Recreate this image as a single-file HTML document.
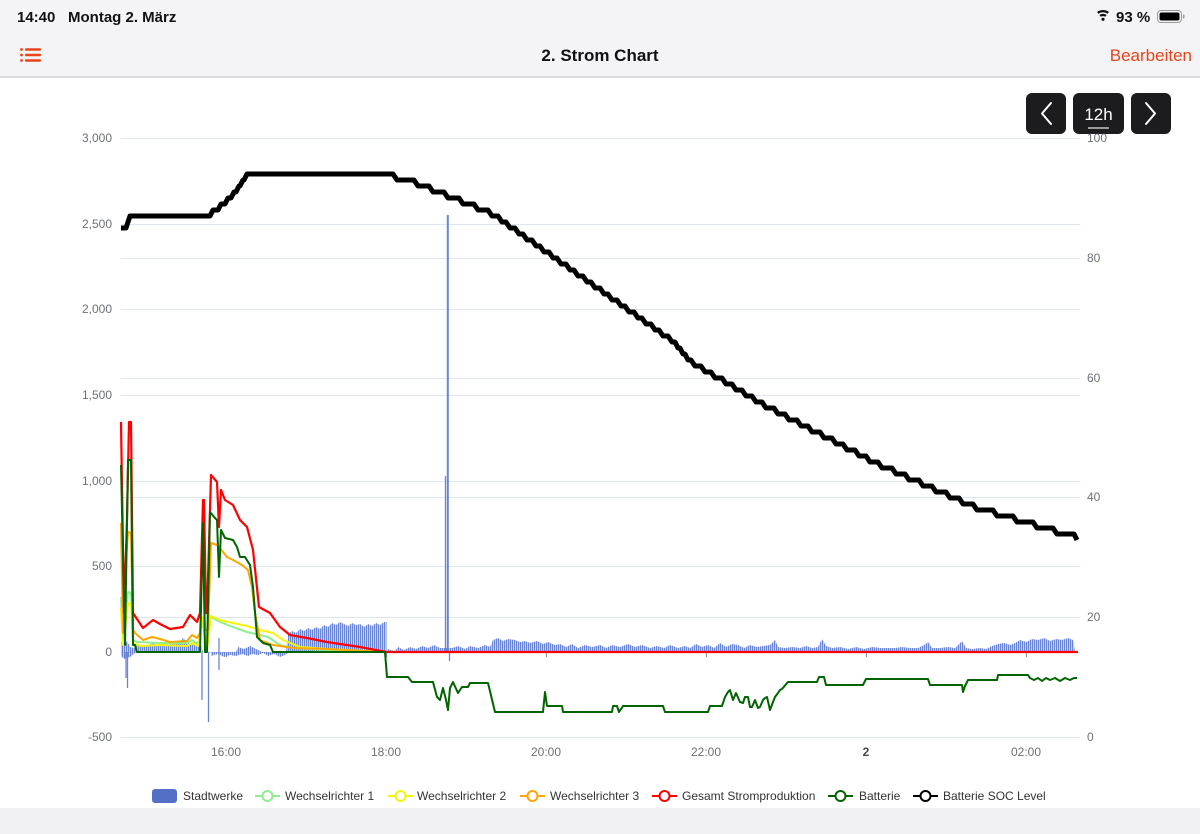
<!DOCTYPE html>
<html>
<head>
<meta charset="utf-8">
<style>
  html,body{margin:0;padding:0;background:#fff;}
  body{width:1200px;height:834px;overflow:hidden;font-family:"Liberation Sans",sans-serif;}
  svg{display:block;}
</style>
</head>
<body>
<svg width="1200" height="834" viewBox="0 0 1200 834" xmlns="http://www.w3.org/2000/svg" font-family="Liberation Sans, sans-serif">
  <defs>
    <pattern id="bars" width="2" height="10" patternUnits="userSpaceOnUse">
      <rect x="0" y="0" width="1.4" height="10" fill="#6a85d6"/>
    </pattern>
  </defs>

  <!-- top bar -->
  <rect x="0" y="0" width="1200" height="77" fill="#f4f4f6"/>
  <rect x="0" y="76" width="1200" height="2" fill="#dcdcdf"/>
  <text x="17" y="22" font-size="15" font-weight="bold" fill="#111">14:40</text>
  <text x="68" y="22" font-size="15" font-weight="bold" fill="#111">Montag 2. März</text>
  <!-- wifi -->
  <g fill="#111">
    <path d="M1097,12 A10,10 0 0 1 1109,12 L1107.5,13.8 A7.5,7.5 0 0 0 1098.5,13.8 Z"/>
    <path d="M1099.3,15 A6.5,6.5 0 0 1 1106.7,15 L1105.2,16.8 A4.2,4.2 0 0 0 1100.8,16.8 Z"/>
    <circle cx="1103" cy="19.3" r="1.6"/>
  </g>
  <text x="1116" y="22" font-size="15" font-weight="bold" fill="#111">93 %</text>
  <rect x="1157.5" y="10.5" width="24" height="12" rx="3.5" fill="none" stroke="#999" stroke-width="1"/>
  <rect x="1159.5" y="12.5" width="20" height="8" rx="2" fill="#000"/>
  <rect x="1183" y="14.5" width="1.5" height="4" rx="0.7" fill="#999"/>

  <!-- list icon -->
  <g fill="#e8431a">
    <circle cx="21.5" cy="49.5" r="1.4"/>
    <circle cx="21.5" cy="55" r="1.4"/>
    <circle cx="21.5" cy="60.5" r="1.4"/>
    <rect x="25" y="48.3" width="16" height="2.4" rx="1"/>
    <rect x="25" y="53.8" width="16" height="2.4" rx="1"/>
    <rect x="25" y="59.3" width="16" height="2.4" rx="1"/>
  </g>
  <text x="600" y="61" font-size="17" font-weight="bold" fill="#111" text-anchor="middle">2. Strom Chart</text>
  <text x="1192" y="61" font-size="17" fill="#e8431a" text-anchor="end">Bearbeiten</text>

  <!-- bottom gray -->
  <rect x="0" y="808" width="1200" height="26" fill="#efeff4"/>

  <!-- nav buttons -->
  <rect x="1026" y="93" width="40" height="41" rx="6" fill="#1c1c1e"/>
  <path d="M1051,103 L1042,113.5 L1051,124" fill="none" stroke="#fff" stroke-width="2" stroke-linecap="round" stroke-linejoin="round"/>
  <rect x="1073" y="93" width="51" height="41" rx="6" fill="#1c1c1e"/>
  <text x="1098.5" y="120" font-size="17" fill="#fff" text-anchor="middle">12h</text>
  <rect x="1088" y="127" width="21" height="2" fill="#9a9a9a"/>
  <rect x="1131" y="93" width="40" height="41" rx="6" fill="#1c1c1e"/>
  <path d="M1146,103 L1155,113.5 L1146,124" fill="none" stroke="#fff" stroke-width="2" stroke-linecap="round" stroke-linejoin="round"/>

  <!-- grid lines -->
  <g stroke="#e0e6f1" stroke-width="1">
    <line x1="121" y1="138.5" x2="1080" y2="138.5"/>
    <line x1="121" y1="224.5" x2="1080" y2="224.5"/>
    <line x1="121" y1="309.5" x2="1080" y2="309.5"/>
    <line x1="121" y1="395.5" x2="1080" y2="395.5"/>
    <line x1="121" y1="481.5" x2="1080" y2="481.5"/>
    <line x1="121" y1="566.5" x2="1080" y2="566.5"/>
    <line x1="121" y1="652.5" x2="1080" y2="652.5"/>
    <line x1="121" y1="737.5" x2="1080" y2="737.5"/>
    <line x1="121" y1="258.5" x2="1080" y2="258.5"/>
    <line x1="121" y1="378.5" x2="1080" y2="378.5"/>
    <line x1="121" y1="497.5" x2="1080" y2="497.5"/>
    <line x1="121" y1="617.5" x2="1080" y2="617.5"/>
  </g>
  <!-- x ticks on zero line -->
  <g stroke="#8a8d96" stroke-width="1">
    <line x1="226.5" y1="652" x2="226.5" y2="657"/>
    <line x1="386.5" y1="652" x2="386.5" y2="657"/>
    <line x1="546.5" y1="652" x2="546.5" y2="657"/>
    <line x1="706.5" y1="652" x2="706.5" y2="657"/>
    <line x1="866.5" y1="652" x2="866.5" y2="657"/>
    <line x1="1026.5" y1="652" x2="1026.5" y2="657"/>
  </g>

  <!-- left axis labels -->
  <g font-size="12" fill="#6e7079" text-anchor="end">
    <text x="112" y="142">3,000</text>
    <text x="112" y="228">2,500</text>
    <text x="112" y="313">2,000</text>
    <text x="112" y="399">1,500</text>
    <text x="112" y="485">1,000</text>
    <text x="112" y="570">500</text>
    <text x="112" y="656">0</text>
    <text x="112" y="741">-500</text>
  </g>
  <!-- right axis labels -->
  <g font-size="12" fill="#6e7079">
    <text x="1087" y="142">100</text>
    <text x="1087" y="262">80</text>
    <text x="1087" y="382">60</text>
    <text x="1087" y="501">40</text>
    <text x="1087" y="621">20</text>
    <text x="1087" y="741">0</text>
  </g>
  <!-- x labels -->
  <g font-size="12" fill="#6e7079" text-anchor="middle">
    <text x="226" y="756">16:00</text>
    <text x="386" y="756">18:00</text>
    <text x="546" y="756">20:00</text>
    <text x="706" y="756">22:00</text>
    <text x="866" y="756" font-weight="bold" fill="#464646">2</text>
    <text x="1026" y="756">02:00</text>
  </g>

  <!-- Stadtwerke bars -->
  <g fill="url(#bars)">
    <path d="M121,652 L121,642 L124,646 L127,641 L130,647 L134,648 L138,644 L143,646 L148,645 L153,643 L158,646 L163,642 L168,645 L173,641 L178,644 L183,638 L188,643 L193,645 L198,641 L201,646 L203,652 Z"/>
    <path d="M121,652 L121,656 L124,659 L130,657 L135,653 L140,652 Z"/>
    <path d="M211,652 L211,656 L218,654 L224,657 L230,655 L236,656 L242,654 L248,656 L252,654 L258,655 L263,653 L268,656 L274,654 L280,657 L285,655 L289,652 Z"/>
    <path d="M236,652 L238,647 L244,649 L250,646 L256,649 L262,652 Z"/>
    <path d="M286,652 L288,634 L292,631 L296,633 L300,629 L304,631 L308,628 L312,630 L316,627 L320,629 L324,625 L328,627 L332,623 L336,625 L340,622 L344,624 L348,626 L352,623 L356,625 L360,624 L364,627 L368,624 L372,626 L376,623 L380,625 L384,622 L386.5,622 L386.5,652 Z"/>
    <path d="M387,652 L387,649 L395,651 L398,647 L404,650 L410,647 L416,649 L422,646 L428,648 L434,645 L440,648 L444,648 L452,648 L458,646 L465,649 L470,646 L478,648 L485,645 L490,647 L493,640 L498,638 L503,641 L508,639 L515,640 L520,642 L525,641 L530,643 L537,641 L543,644 L548,642 L555,645 L560,644 L566,647 L572,644 L578,648 L585,645 L592,647 L600,645 L606,648 L612,645 L620,647 L628,644 L635,647 L642,645 L650,648 L657,646 L664,648 L670,645 L678,648 L685,646 L690,648 L696,644 L702,647 L708,645 L714,648 L720,643 L726,647 L732,644 L738,645 L744,648 L750,645 L757,647 L763,646 L770,645 L775,640 L778,647 L785,648 L792,647 L800,648 L806,646 L812,648 L818,647 L822,639 L826,646 L832,648 L840,647 L848,649 L856,647 L864,649 L872,647 L880,648 L888,648 L895,648 L902,647 L910,648 L918,648 L924,645 L928,642 L932,648 L940,648 L948,647 L955,648 L962,641 L966,648 L972,649 L980,648 L986,649 L992,646 L998,644 L1004,643 L1010,645 L1015,643 L1020,640 L1026,642 L1032,639 L1038,640 L1044,638 L1050,641 L1056,639 L1062,640 L1068,638 L1073,640 L1075,652 Z"/>
  </g>
  <g stroke="#6a85d6" stroke-width="1.3">
    <line x1="126" y1="652" x2="126" y2="678"/>
    <line x1="127.5" y1="652" x2="127.5" y2="688"/>
    <line x1="202" y1="652" x2="202" y2="700"/>
    <line x1="208.5" y1="652" x2="208.5" y2="722"/>
    <line x1="219" y1="638" x2="219" y2="670"/>
    <line x1="445.5" y1="652" x2="445.5" y2="476"/>
    <line x1="447.8" y1="652" x2="447.8" y2="215" stroke-width="2"/>
    <line x1="449.5" y1="652" x2="449.5" y2="661"/>
  </g>

  <!-- Wechselrichter 1 -->
  <path d="M121,597 L123,643 L128,592 L131,593 L133,640 L137,642 L160,643 L187,643 L192,640 L198,645 L202,620 L207,648 L211,617 L220,622 L233,627 L247,632 L260,635 L268,637 L280,645 L293,648 L327,650 L387,652" fill="none" stroke="#90ee90" stroke-width="2" stroke-linejoin="round"/>
  <!-- Wechselrichter 2 -->
  <path d="M121,608 L123,645 L128,603 L131,604 L133,643 L140,646 L160,645 L187,646 L192,643 L198,646 L202,617 L207,649 L211,616 L220,620 L233,623 L247,626 L260,630 L273,633 L283,640 L300,647 L327,649 L387,652" fill="none" stroke="#f5f50a" stroke-width="2" stroke-linejoin="round"/>
  <!-- Wechselrichter 3 -->
  <path d="M121,523 L123,633 L126,560 L128,532 L131,533 L133,630 L135,633 L143,640 L152,637 L160,639 L170,642 L187,641 L192,635 L197,638 L200,633 L203,527 L205,630 L208,630 L211,543 L217,545 L219,547 L227,557 L233,560 L242,565 L248,570 L252,587 L255,613 L260,640 L273,645 L293,648 L327,649 L387,652" fill="none" stroke="#ffa500" stroke-width="2" stroke-linejoin="round"/>
  <!-- Gesamt -->
  <path d="M121,422 L124,613 L127,520 L129,422 L131,422 L133,613 L143,628 L153,620 L160,624 L170,629 L183,627 L190,615 L197,622 L200,613 L203,500 L204,500 L206,613 L207,613 L211,475 L217,482 L219,527 L221,490 L225,500 L233,505 L240,520 L247,527 L253,550 L259,607 L270,613 L280,627 L290,635 L307,638 L327,642 L360,647 L387,652 L1078,652" fill="none" stroke="#ff0000" stroke-width="2.2" stroke-linejoin="round"/>
  <!-- Batterie -->
  <path d="M121,465 L125,645 L128,460 L131,460 L133,645 L135,645 L137,652 L200,652 L203,523 L205,652 L207,652 L210,512 L215,518 L217,520 L219,577 L221,530 L225,538 L233,540 L237,547 L240,557 L245,557 L250,565 L253,587 L257,637 L263,643 L270,645 L273,652 L385,652 L387,677 L408,677 L412,682 L433,682 L437,697 L440,700 L443,688 L446,700 L448,710 L450,688 L453,682 L458,693 L462,687 L468,687 L470,683 L488,683 L495,712 L543,712 L545,692 L547,706 L562,706 L563,712 L612,712 L613,706 L617,706 L619,712 L623,706 L663,706 L665,712 L708,712 L710,706 L722,706 L725,697 L728,692 L730,690 L733,700 L736,693 L740,702 L743,703 L745,697 L748,697 L750,707 L752,707 L755,700 L758,708 L760,707 L763,700 L765,698 L767,697 L770,710 L773,702 L775,697 L778,693 L780,690 L782,689 L788,682 L817,682 L819,677 L824,677 L826,685 L863,685 L866,679 L928,679 L930,685 L962,685 L963,692 L965,686 L968,680 L997,680 L998,675 L1028,675 L1030,678 L1034,680 L1038,678 L1042,681 L1046,678 L1050,680 L1055,678 L1060,681 L1065,678 L1070,680 L1074,678 L1077,678" fill="none" stroke="#006400" stroke-width="2" stroke-linejoin="round"/>
  <!-- Batterie SOC Level -->
  <path d="M121,228 H126 L130,216 H210 L213,210 H218 L221,204 H225 L228,198 H231 L234,192 H236 L239,186 H240 L243,180 H244 L247,174 H393 L397,180 H414 L418,186 H429 L433,192 H444 L448,198 H459 L463,204 H474 L478,210 H488 L492,216 H498 L502,222 H506 L510,228 H515 L519,234 H523 L527,240 H532 L536,246 H540 L544,252 H549 L553,258 H557 L561,264 H566 L570,270 H574 L578,276 H583 L587,282 H591 L595,288 H600 L604,294 H608 L612,300 H617 L621,306 H625 L629,312 H634 L638,318 H642 L646,324 H651 L655,330 H659 L663,336 H668 L672,342 H675 L678,348 H680 L683,354 H685 L688,360 H691 L695,366 H701 L705,372 H711 L715,378 H722 L726,384 H732 L736,390 H742 L746,396 H752 L756,402 H762 L766,408 H774 L778,414 H785 L789,420 H797 L801,426 H808 L812,432 H820 L824,438 H832 L836,444 H843 L847,450 H855 L859,456 H866 L870,462 H878 L882,468 H892 L896,474 H905 L909,480 H919 L923,486 H932 L936,492 H946 L950,498 H959 L963,504 H973 L977,510 H993 L997,516 H1013 L1017,522 H1033 L1037,528 H1053 L1057,534 H1074 L1077,540" fill="none" stroke="#000" stroke-width="5" stroke-linejoin="round"/>

  <!-- legend -->
  <g font-size="12" fill="#333">
    <rect x="152" y="789" width="25" height="14" rx="3" fill="#5470c6"/>
    <text x="183" y="800">Stadtwerke</text>

    <line x1="255" y1="796" x2="280" y2="796" stroke="#90ee90" stroke-width="2"/>
    <circle cx="267.5" cy="796" r="5" fill="#fff" stroke="#90ee90" stroke-width="2"/>
    <text x="285" y="800">Wechselrichter 1</text>

    <line x1="388" y1="796" x2="413" y2="796" stroke="#f5f50a" stroke-width="2"/>
    <circle cx="400.5" cy="796" r="5" fill="#fff" stroke="#f5f50a" stroke-width="2"/>
    <text x="417" y="800">Wechselrichter 2</text>

    <line x1="520" y1="796" x2="545" y2="796" stroke="#ffa500" stroke-width="2"/>
    <circle cx="532.5" cy="796" r="5" fill="#fff" stroke="#ffa500" stroke-width="2"/>
    <text x="550" y="800">Wechselrichter 3</text>

    <line x1="652" y1="796" x2="677" y2="796" stroke="#ff0000" stroke-width="2"/>
    <circle cx="664.5" cy="796" r="5" fill="#fff" stroke="#ff0000" stroke-width="2"/>
    <text x="682" y="800">Gesamt Stromproduktion</text>

    <line x1="828" y1="796" x2="853" y2="796" stroke="#006400" stroke-width="2"/>
    <circle cx="840.5" cy="796" r="5" fill="#fff" stroke="#006400" stroke-width="2"/>
    <text x="859" y="800">Batterie</text>

    <line x1="913" y1="796" x2="938" y2="796" stroke="#000" stroke-width="2"/>
    <circle cx="925.5" cy="796" r="5" fill="#fff" stroke="#000" stroke-width="2"/>
    <text x="943" y="800">Batterie SOC Level</text>
  </g>
</svg>
</body>
</html>
